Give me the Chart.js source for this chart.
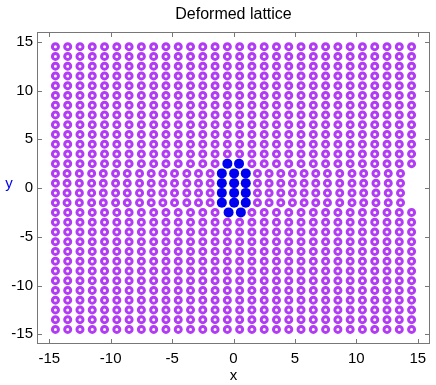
<!DOCTYPE html>
<html>
<head>
<meta charset="utf-8">
<script src="https://cdn.jsdelivr.net/npm/chart.js@4/dist/chart.umd.min.js"></script>
<style>
  html, body { margin: 0; padding: 0; background: #fff; }
  #lattice { display: block; }
</style>
</head>
<body>
<canvas id="lattice" width="436" height="385"></canvas>
<script>
// lattice columns and rows (undeformed)
const colX = [-14.5, -13.5, -12.5, -11.5, -10.5, -9.5, -8.5, -7.5, -6.5, -5.5, -4.5, -3.5, -2.5, -1.5, -0.5,
              0.5, 1.5, 2.5, 3.5, 4.5, 5.5, 6.5, 7.5, 8.5, 9.5, 10.5, 11.5, 12.5, 13.5, 14.5];
const rowY = [14.5, 13.5, 12.5, 11.5, 10.5, 9.5, 8.5, 7.5, 6.5, 5.5, 4.5, 3.5, 2.5,
              -2.5, -3.5, -4.5, -5.5, -6.5, -7.5, -8.5, -9.5, -10.5, -11.5, -12.5, -13.5, -14.5];

// rows squeezed around the inclusion
const bandY = [1.5, 0.5, -0.5, -1.5];
const bandX = [-14.5, -13.55, -12.55, -11.55, -10.6, -9.6, -8.65, -7.65, -6.7, -5.75, -4.8, -3.8, -2.85, -1.9,
               1.95, 2.9, 3.85, 4.8, 5.75, 6.7, 7.65, 8.65, 9.65, 10.6, 11.6, 12.6, 13.6];

// inclusion (blue)
const blueX = [-0.5, 0.45, -0.95, 0.05, 1.0, -0.95, 0.05, 1.0, -0.95, 0.05, 1.0, -0.95, 0.05, 1.0, -0.4, 0.6];
const blueY = [2.5, 2.5, 1.5, 1.5, 1.5, 0.5, 0.5, 0.5, -0.5, -0.5, -0.5, -1.5, -1.5, -1.5, -2.5, -2.5];

const xTicks = [-15, -10, -5, 0, 5, 10, 15];
const yTicks = [-15, -10, -5, 0, 5, 10, 15];

const bluePts = blueX.map((x, i) => ({ x, y: blueY[i] }));

const latticePts = [];
rowY.forEach(y => {
    colX.forEach(x => {
        const taken = bluePts.some(p => Math.abs(p.y - y) < 0.3 && Math.abs(p.x - x) < 0.3);
        if (!taken) latticePts.push({ x, y });
    });
});
bandY.forEach(y => {
    bandX.forEach(x => latticePts.push({ x, y }));
});

const frameColor = '#777';
const fontFam = '"Liberation Sans", Arial, sans-serif';

const frame = {
    id: 'frame',
    afterDraw(chart) {
        const { ctx, chartArea: a, scales } = chart;
        ctx.save();
        ctx.strokeStyle = frameColor;
        ctx.lineWidth = 1;
        ctx.strokeRect(Math.round(a.left) + 0.5, Math.round(a.top) + 0.5,
                       Math.round(a.right - a.left) - 1, Math.round(a.bottom - a.top) - 1);
        ctx.beginPath();
        xTicks.forEach(v => {
            const px = Math.round(scales.x.getPixelForValue(v)) + 0.5;
            ctx.moveTo(px, a.bottom); ctx.lineTo(px, a.bottom - 5);
            ctx.moveTo(px, a.top); ctx.lineTo(px, a.top + 5);
        });
        yTicks.forEach(v => {
            const py = Math.round(scales.y.getPixelForValue(v)) + 0.5;
            ctx.moveTo(a.left, py); ctx.lineTo(a.left + 5, py);
            ctx.moveTo(a.right, py); ctx.lineTo(a.right - 5, py);
        });
        ctx.stroke();

        // title and y label
        ctx.fillStyle = '#000';
        ctx.font = '16px ' + fontFam;
        ctx.textAlign = 'center';
        ctx.textBaseline = 'alphabetic';
        ctx.fillText('Deformed lattice', (a.left + a.right) / 2, 19);
        ctx.fillStyle = '#0000ee';
        ctx.font = '15px ' + fontFam;
        ctx.fillText('y', 9, 188);
        ctx.restore();
    }
};

new Chart(document.getElementById('lattice'), {
    type: 'scatter',
    data: {
        datasets: [{
            data: latticePts,
            pointRadius: 3,
            pointBorderWidth: 3,
            pointBorderColor: '#b23cf5',
            pointBackgroundColor: '#ffffff',
            pointHoverRadius: 3,
        }, {
            data: bluePts,
            pointRadius: 5,
            pointBorderWidth: 0,
            pointBackgroundColor: '#0000f0',
            pointHoverRadius: 5,
        }]
    },
    options: {
        responsive: false,
        animation: false,
        devicePixelRatio: 1,
        layout: { padding: { top: 32, right: 4, left: 0, bottom: 0 } },
        plugins: { legend: { display: false }, tooltip: { enabled: false } },
        scales: {
            x: {
                type: 'linear', min: -16, max: 16,
                afterBuildTicks: s => { s.ticks = xTicks.map(v => ({ value: v })); },
                afterFit: s => { s.height = 41; },
                grid: { display: false, drawTicks: false },
                border: { display: false },
                ticks: { color: '#000', padding: 6, font: { size: 15, family: fontFam }, maxRotation: 0 },
                title: { display: true, text: 'x', color: '#000', padding: { top: 0, bottom: 0 }, font: { size: 15, family: fontFam } }
            },
            y: {
                type: 'linear', min: -16, max: 16,
                afterBuildTicks: s => { s.ticks = yTicks.map(v => ({ value: v })); },
                afterFit: s => { s.width = 37; },
                grid: { display: false, drawTicks: false },
                border: { display: false },
                ticks: { color: '#000', padding: 4, font: { size: 15, family: fontFam } }
            }
        }
    },
    plugins: [frame]
});
</script>
</body>
</html>
